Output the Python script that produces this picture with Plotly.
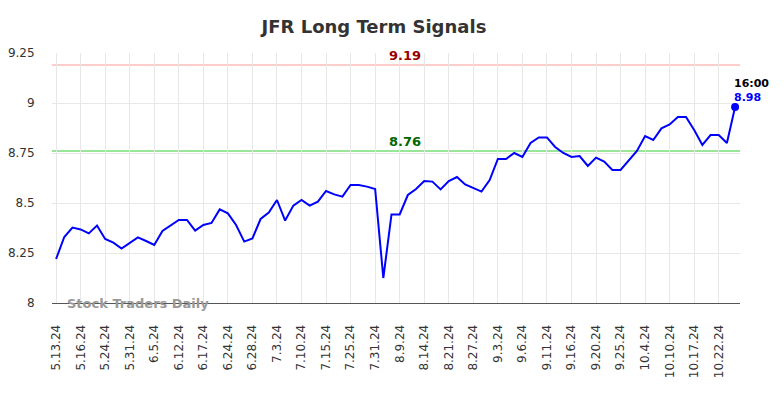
import plotly.graph_objects as go

dates = [
    "5.13.24", "5.14.24", "5.15.24", "5.16.24", "5.20.24", "5.22.24",
    "5.24.24", "5.28.24", "5.30.24", "5.31.24", "6.3.24", "6.4.24",
    "6.5.24", "6.7.24", "6.11.24", "6.12.24", "6.13.24", "6.14.24",
    "6.17.24", "6.20.24", "6.21.24", "6.24.24", "6.25.24", "6.27.24",
    "6.28.24", "7.1.24", "7.2.24", "7.3.24", "7.5.24", "7.9.24",
    "7.10.24", "7.11.24", "7.12.24", "7.15.24", "7.19.24", "7.23.24",
    "7.25.24", "7.29.24", "7.30.24", "7.31.24", "8.2.24", "8.7.24",
    "8.9.24", "8.12.24", "8.13.24", "8.14.24", "8.16.24", "8.19.24",
    "8.21.24", "8.22.24", "8.26.24", "8.27.24", "8.29.24", "8.30.24",
    "9.3.24", "9.4.24", "9.5.24", "9.6.24", "9.9.24", "9.10.24",
    "9.11.24", "9.12.24", "9.13.24", "9.16.24", "9.18.24", "9.19.24",
    "9.20.24", "9.23.24", "9.24.24", "9.25.24", "9.27.24", "10.2.24",
    "10.4.24", "10.7.24", "10.9.24", "10.10.24", "10.14.24", "10.15.24",
    "10.17.24", "10.18.24", "10.21.24", "10.22.24", "10.24.24", "10.25.24",
]

prices = [
    8.22, 8.33, 8.377, 8.368, 8.348, 8.387, 8.32, 8.302, 8.272, 8.298,
    8.328, 8.31, 8.29, 8.36, 8.387, 8.415, 8.415, 8.362, 8.39, 8.40,
    8.468, 8.448, 8.39, 8.307, 8.323, 8.42, 8.452, 8.515, 8.412, 8.487,
    8.515, 8.487, 8.507, 8.56, 8.543, 8.532, 8.59, 8.59, 8.582, 8.57,
    8.125, 8.443, 8.443, 8.54, 8.57, 8.61, 8.607, 8.568, 8.61, 8.63,
    8.593, 8.573, 8.557, 8.615, 8.72, 8.72, 8.75, 8.73, 8.80, 8.828,
    8.828, 8.78, 8.75, 8.73, 8.735, 8.685, 8.727, 8.707, 8.665, 8.665,
    8.715, 8.76, 8.835, 8.815, 8.873, 8.893, 8.93, 8.93, 8.865, 8.79,
    8.84, 8.84, 8.80, 8.98,
]

tick_labels = [
    "5.13.24", "5.16.24", "5.24.24", "5.31.24", "6.5.24", "6.12.24",
    "6.17.24", "6.24.24", "6.28.24", "7.3.24", "7.10.24", "7.15.24",
    "7.25.24", "7.31.24", "8.9.24", "8.14.24", "8.21.24", "8.27.24",
    "9.3.24", "9.6.24", "9.11.24", "9.16.24", "9.20.24", "9.25.24",
    "10.4.24", "10.10.24", "10.17.24", "10.22.24",
]

y_ticks = [8, 8.25, 8.5, 8.75, 9, 9.25]
y_tick_text = ["8", "8.25", "8.5", "8.75", "9", "9.25"]

upper_level = 9.19
lower_level = 8.76
last_time = "16:00"

FONT = "DejaVu Sans"

fig = go.Figure()

fig.add_trace(go.Scatter(
    x=dates, y=prices, mode="lines",
    line=dict(color="#0000ff", width=2), showlegend=False,
))
fig.add_trace(go.Scatter(
    x=[dates[-1]], y=[prices[-1]], mode="markers",
    marker=dict(color="#0000ff", size=8), showlegend=False,
))

# resistance / support lines
fig.add_shape(type="line", xref="paper", yref="y", x0=0, x1=1,
              y0=upper_level, y1=upper_level, layer="below",
              line=dict(color="#ffcccc", width=2))
fig.add_shape(type="line", xref="paper", yref="y", x0=0, x1=1,
              y0=lower_level, y1=lower_level, layer="below",
              line=dict(color="#99e699", width=2))

n = len(dates)
# page body has an 8px default margin, so the figure is 8px smaller
fig.update_layout(
    width=776, height=390,
    margin=dict(l=44, r=44, t=45, b=95),
    paper_bgcolor="white", plot_bgcolor="white",
    font=dict(family=FONT, color="#333333", size=12),
    title=dict(text="<b>JFR Long Term Signals</b>", x=0.4716, xanchor="center",
               y=0.951, yanchor="middle",
               font=dict(family=FONT, size=18, color="#333333")),
    xaxis=dict(
        type="category", categoryorder="array", categoryarray=dates,
        range=[-0.5, n - 1 + 0.6],
        tickmode="array", tickvals=tick_labels, ticktext=tick_labels,
        tickangle=-90, tickfont=dict(size=12, color="#333333"),
        showgrid=True, gridcolor="#e8e8e8", gridwidth=1,
        showline=True, linecolor="#555555", linewidth=1,
        ticks="outside", ticklen=16, tickcolor="rgba(0,0,0,0)",
        zeroline=False, fixedrange=True, automargin=False,
    ),
    yaxis=dict(
        range=[8, 9.25], tickvals=y_ticks, ticktext=y_tick_text,
        tickfont=dict(size=12, color="#333333"),
        showgrid=True, gridcolor="#e8e8e8", gridwidth=1,
        zeroline=False, showline=False,
        ticks="outside", ticklen=14, tickcolor="rgba(0,0,0,0)",
        fixedrange=True, automargin=False,
    ),
)

ann_x = (n - 1) * 0.514
fig.add_annotation(x=ann_x, y=upper_level, text=f"<b>{upper_level:.2f}</b>",
                   showarrow=False, yanchor="bottom", yshift=0,
                   font=dict(family=FONT, size=13, color="#990000"))
fig.add_annotation(x=ann_x, y=lower_level, text=f"<b>{lower_level:.2f}</b>",
                   showarrow=False, yanchor="bottom", yshift=0,
                   font=dict(family=FONT, size=13, color="#006600"))
fig.add_annotation(x=n - 1, y=prices[-1], text=f"<b>{prices[-1]:.2f}</b>",
                   showarrow=False, xanchor="left", yanchor="bottom",
                   xshift=-3, yshift=1,
                   font=dict(family=FONT, size=11, color="#0000ff"))
fig.add_annotation(x=n - 1, y=prices[-1], text=f"<b>{last_time}</b>",
                   showarrow=False, xanchor="left", yanchor="bottom",
                   xshift=-3, yshift=15,
                   font=dict(family=FONT, size=11, color="#000000"))
fig.add_annotation(xref="paper", yref="paper", x=0.019, y=0.0,
                   text="<b>Stock Traders Daily</b>", showarrow=False,
                   xanchor="left", yanchor="middle",
                   font=dict(family=FONT, size=13, color="#999999"))

fig.write_html("out.html")
